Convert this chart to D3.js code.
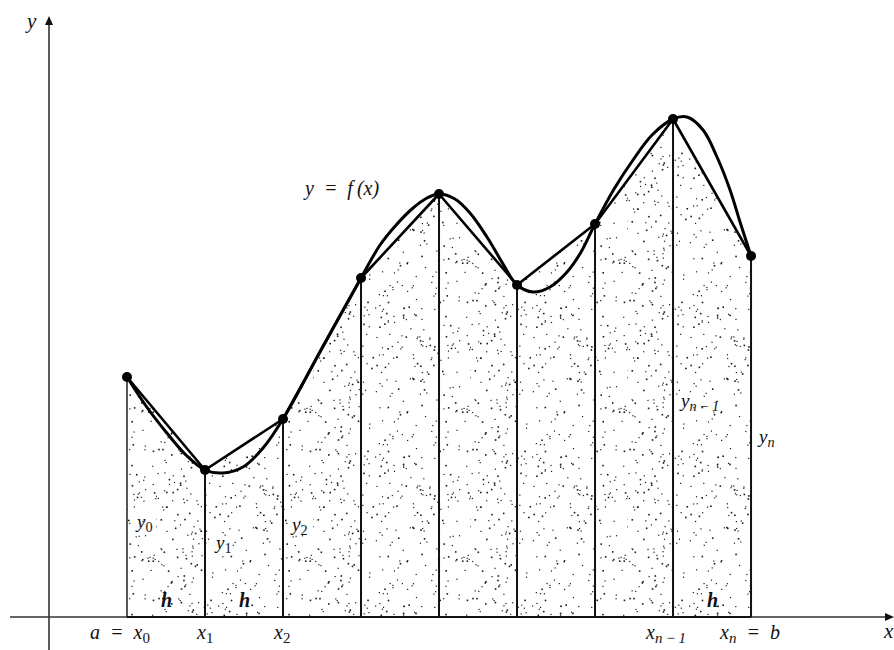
<!DOCTYPE html>
<html><head><meta charset="utf-8">
<script src="https://cdn.jsdelivr.net/npm/d3@7"></script>
<style>
body{margin:0;background:#fff;}
svg{display:block;}
text{font-family:"Liberation Serif","DejaVu Serif",serif;font-style:italic;fill:#111;}
</style></head>
<body><svg id="c" width="894" height="650"></svg>
<script>
// ---- data ----
const nodeX = [1, 2, 3, 4, 5, 6, 7, 8, 9];
const nodeY = [2.40, 1.47, 1.98, 3.39, 4.23, 3.32, 3.93, 4.98, 3.61];
const curveX = [1.00,1.244,1.50,1.756,2.00,2.231,2.487,2.744,3.00,3.50,4.00,4.244,4.462,4.667,4.846,5.00,5.205,5.397,5.615,5.821,6.00,6.205,6.423,6.641,6.821,7.00,7.244,7.487,7.731,8.00,8.179,8.385,8.564,8.731,8.859,9.00];
const curveY = [2.40,2.11,1.85,1.62,1.47,1.44,1.50,1.69,1.98,2.69,3.39,3.72,3.93,4.09,4.19,4.23,4.18,4.04,3.80,3.53,3.32,3.25,3.30,3.45,3.65,3.93,4.28,4.57,4.82,4.98,5.00,4.87,4.60,4.27,3.95,3.61];
const xTickPos = [1, 2, 3, 8, 9];
const xTickLabels = [["a\u2002=\u2002x","0"],["x","1"],["x","2"],["x","n\u2009\u2212\u20091"],["x","n","\u2002=\u2002b"]];
const yLabelNodes = [1, 2, 3, 8, 9];
const yLabels = [["y","0"],["y","1"],["y","2"],["y","n\u2009\u2212\u20091"],["y","n"]];
const hCells = [1.5, 2.5, 8.5];
const curveLabel = "y\u2002=\u2002f\u2009(x)";

// ---- scales ----
const svg = d3.select("#c");
const x = d3.scaleLinear().domain([0, 10.82]).range([49, 893]);
const y = d3.scaleLinear().domain([0, 6]).range([617, 17]);

// stipple pattern (decorative texture, deterministic)
const defs = svg.append("defs");
const PW = 157, PH = 149;
const pat = defs.append("pattern").attr("id","stip").attr("patternUnits","userSpaceOnUse")
  .attr("width",PW).attr("height",PH);
let s = 987654321;
function rnd(){ s |= 0; s = s + 0x6D2B79F5 | 0; let t = Math.imul(s ^ s >>> 15, 1 | s);
  t = t + Math.imul(t ^ t >>> 7, 61 | t) ^ t; return ((t ^ t >>> 14) >>> 0) / 4294967296; }
for(let i=0;i<300;i++){
  const sz = rnd() < 0.3 ? 1.6 : 1.2;
  pat.append("rect").attr("x",rnd()*PW).attr("y",rnd()*PH)
    .attr("width",sz).attr("height",sz).attr("fill","#1a1a1a");
}

const pts = nodeX.map((d,i)=>[d,nodeY[i]]);
// stippled trapezoids
svg.append("path").datum(pts)
  .attr("d", d3.area().x(d=>x(d[0])).y0(y(0)).y1(d=>y(d[1])))
  .attr("fill","url(#stip)");

// axes
svg.append("line").attr("x1",x(0)).attr("x2",x(0)).attr("y1",650).attr("y2",y(5.95))
  .attr("stroke","#333").attr("stroke-width",1.6);
svg.append("line").attr("x1",10).attr("x2",x(10.8)).attr("y1",y(0)).attr("y2",y(0))
  .attr("stroke","#333").attr("stroke-width",1.6);
svg.append("path").attr("d",`M${x(0)},${y(6)-1} l-4,9 l8,0 z`).attr("fill","#111");
svg.append("path").attr("d",`M${x(10.82)+1},${y(0)} l-9,-4 l0,8 z`).attr("fill","#111");

// verticals
svg.selectAll("line.v").data(pts).join("line").attr("class","v")
  .attr("x1",d=>x(d[0])).attr("x2",d=>x(d[0])).attr("y1",d=>y(d[1])).attr("y2",y(0))
  .attr("stroke","#111").attr("stroke-width",(d,i)=>i===0?1.4:2);
// base segment
svg.append("line").attr("x1",x(nodeX[0])).attr("x2",x(nodeX[nodeX.length-1]))
  .attr("y1",y(0)).attr("y2",y(0)).attr("stroke","#111").attr("stroke-width",2.2);

// chords
svg.append("path").datum(pts)
  .attr("d", d3.line().x(d=>x(d[0])).y(d=>y(d[1])))
  .attr("fill","none").attr("stroke","#000").attr("stroke-width",2.6).attr("stroke-linejoin","round");

// curve
const cpts = curveX.map((d,i)=>[d,curveY[i]]);
svg.append("path").datum(cpts)
  .attr("d", d3.line().curve(d3.curveCatmullRom.alpha(0.5)).x(d=>x(d[0])).y(d=>y(d[1])))
  .attr("fill","none").attr("stroke","#000").attr("stroke-width",3);

// nodes
svg.selectAll("circle.n").data(pts).join("circle").attr("class","n")
  .attr("cx",d=>x(d[0])).attr("cy",d=>y(d[1])).attr("r",5).attr("fill","#000");

// helper for subscripted text
function sub(g, parts, fs){
  const t = g.append("text").attr("font-size",fs);
  t.append("tspan").text(parts[0]);
  if(parts[1]!==undefined){
    t.append("tspan").attr("font-size",fs*0.75).attr("dy",fs*0.22)
      .attr("font-style", /^\d$/.test(parts[1])?"normal":"italic").text(parts[1]);
  }
  if(parts[2]!==undefined){
    t.append("tspan").attr("dy",-fs*0.22).text(parts[2]);
  }
  return t;
}

// axis labels
svg.append("text").attr("x",27).attr("y",28).attr("font-size",21).text("y");
svg.append("text").attr("x",884).attr("y",638).attr("font-size",21).text("x");

// x tick labels
const xOff = [-37, -8, -9, -27, -31];
xTickPos.forEach((p,i)=>{
  const g = svg.append("g").attr("transform",`translate(${x(p)+xOff[i]},639)`);
  sub(g, xTickLabels[i], 20);
});

// y labels
const yPos = [[10,528],[11,549],[9,531],[8,407],[8,443]];
yLabelNodes.forEach((n,i)=>{
  const g = svg.append("g").attr("transform",`translate(${x(n)+yPos[i][0]},${yPos[i][1]})`);
  sub(g, yLabels[i], 19);
});

// h labels
svg.selectAll("text.h").data(hCells).join("text").attr("class","h")
  .attr("x",d=>x(d)-5).attr("y",607).attr("font-size",20).attr("font-weight","bold").text("h");

// curve label
svg.append("text").attr("x",305).attr("y",195).attr("font-size",20).text(curveLabel);
</script></body></html>
